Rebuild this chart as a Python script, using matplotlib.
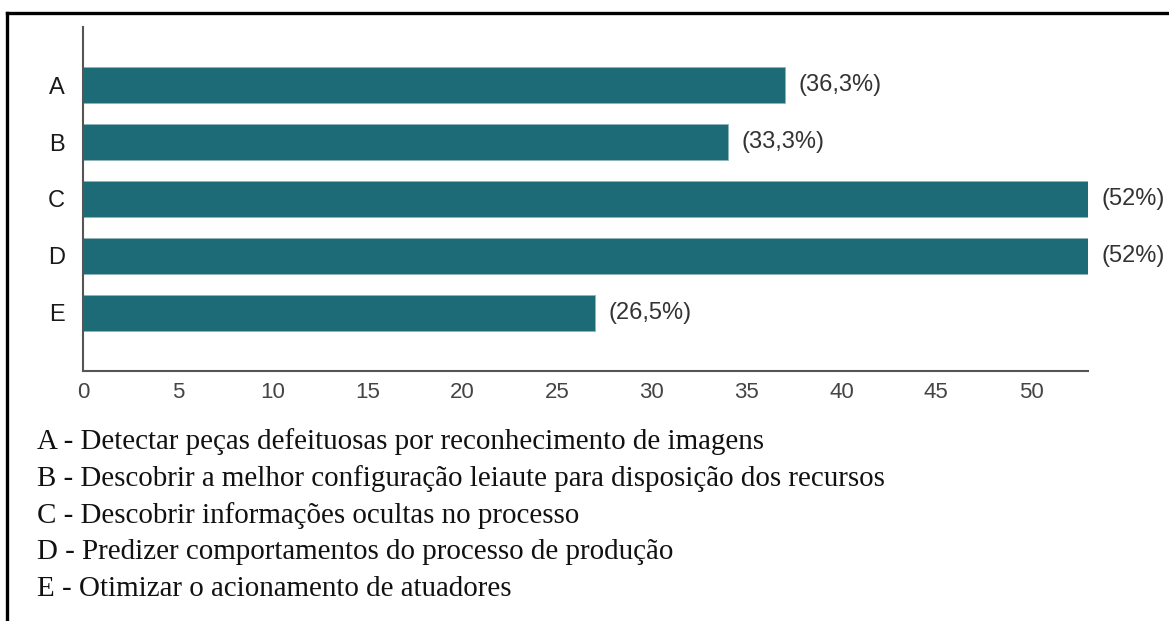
import matplotlib
matplotlib.use('Agg')
from matplotlib import pyplot as plt
from matplotlib.lines import Line2D

# data
categories = ['A', 'B', 'C', 'D', 'E']
counts = [37, 34, 53, 53, 27]
pct_labels = ['(36,3%)', '(33,3%)', '(52%)', '(52%)', '(26,5%)']
x_ticks = [0, 5, 10, 15, 20, 25, 30, 35, 40, 45, 50]
descriptions = [
	'A - Detectar peças defeituosas por reconhecimento de imagens',
	'B - Descobrir a melhor configuração leiaute para disposição dos recursos',
	'C - Descobrir informações ocultas no processo',
	'D - Predizer comportamentos do processo de produção',
	'E - Otimizar o acionamento de atuadores',
]

bar_color = '#1c6b77'

fig = plt.figure(figsize=(11.69, 6.21), dpi=100)
ax = fig.add_axes([0.0710, 0.4026, 0.8597, 0.5539])

y = list(range(len(categories)))
ax.barh(y, counts, height=0.62, color=bar_color, edgecolor='#8fb3b9', linewidth=0.6)

for yi, c, lab in zip(y, counts, pct_labels):
	ax.annotate(lab, (c, yi), xytext=(10, 0), textcoords='offset points',
		va='center', ha='left', fontsize=17, color='#333333', family='Liberation Sans')

ax.set_ylim(len(categories) - 1 + 1.02, -1.02)
ax.set_xlim(0, 53)
ax.set_yticks(y)
ax.set_yticklabels(categories, fontsize=17, color='#1a1a1a', family='Liberation Sans')
ax.set_xticks(x_ticks)
ax.set_xticklabels([str(t) for t in x_ticks], fontsize=16, color='#444444', family='Liberation Sans')
ax.tick_params(axis='both', length=0)
ax.tick_params(axis='y', pad=13)
ax.tick_params(axis='x', pad=8)

for side in ['top', 'right']:
	ax.spines[side].set_visible(False)
for side in ['left', 'bottom']:
	ax.spines[side].set_color('#555555')
	ax.spines[side].set_linewidth(1.5)

# legend text under the chart
for i, txt in enumerate(descriptions):
	fig.text(0.0317, 1 - (442 + i * 36.8) / 621, txt, fontsize=20.9,
		family='Liberation Serif', color='#111111', va='center', ha='left')

# frame lines (top and left only)
fig.add_artist(Line2D([0.006, 1.0], [0.979, 0.979], transform=fig.transFigure, color='black', linewidth=2.4))
fig.add_artist(Line2D([0.006, 0.006], [0.0, 0.979], transform=fig.transFigure, color='black', linewidth=2.4))

fig.savefig('out.png', dpi=100, facecolor='white')
